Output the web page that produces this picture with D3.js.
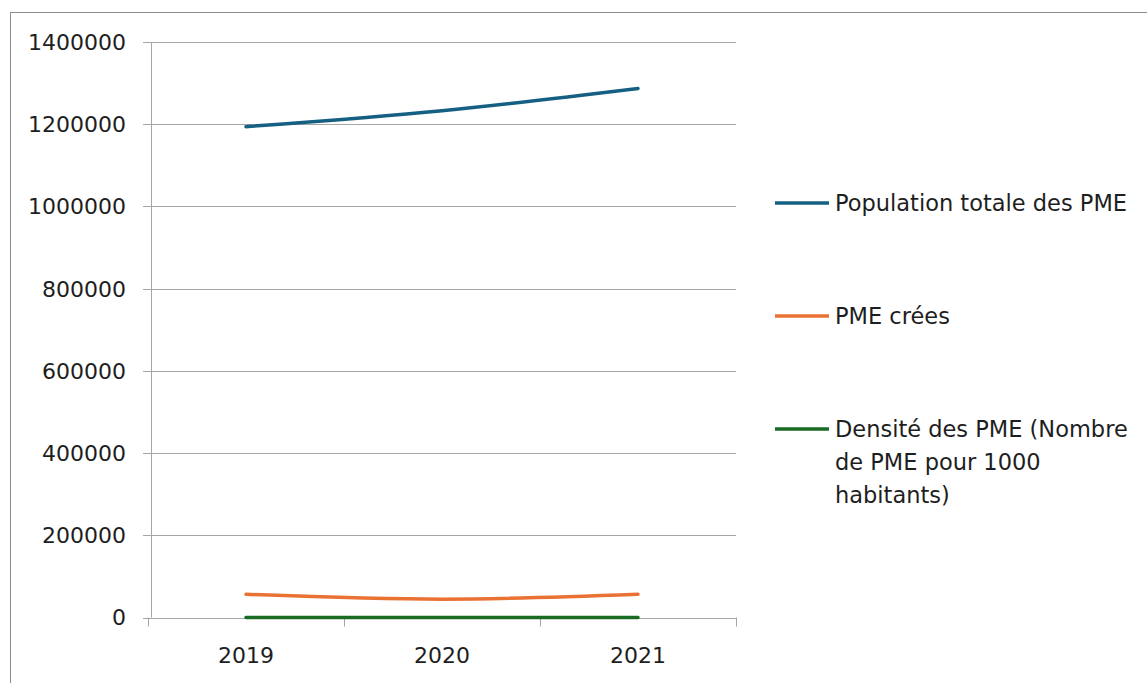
<!DOCTYPE html>
<html>
<head>
<meta charset="utf-8">
<script src="https://cdn.jsdelivr.net/npm/d3@7"></script>
<style>
  body { margin: 0; background: #fff; }
  text { font-family: "DejaVu Sans", "Liberation Sans", sans-serif; fill: #1e1e1e; }
</style>
</head>
<body>
<div id="chart"></div>
<script>
// data
let years = ["2019", "2020", "2021"];
let populationPME = [1194000, 1233000, 1287000];
let pmeCreees = [56500, 44500, 56500];
let densitePME = [30, 31, 32];
let yTicks = [0, 200000, 400000, 600000, 800000, 1000000, 1200000, 1400000];

let seriesNames = ["Population totale des PME", "PME crées", "Densité des PME (Nombre de PME pour 1000 habitants)"];
let seriesColors = ["#156082", "#E97132", "#196B24"];

let width = 1147, height = 683;
let margin = {left: 151, top: 42, right: 411, bottom: 65};

let svg = d3.select("#chart")
    .append("svg")
    .attr("width", width)
    .attr("height", height);

// outer frame (runs off the right and bottom edges)
svg.append("rect")
    .attr("x", 10.5).attr("y", 12.5)
    .attr("width", width).attr("height", height)
    .attr("fill", "none")
    .attr("stroke", "#8c8c8c")
    .attr("stroke-width", 1);

let g = svg.append("g")
    .attr("transform", `translate(${margin.left}, ${margin.top})`);

let plotW = width - margin.left - margin.right;   // ~585
let plotH = height - margin.top - margin.bottom;  // ~576

let x = d3.scaleBand()
    .domain(years)
    .range([-3, plotW]);

let y = d3.scaleLinear()
    .domain([0, 1400000])
    .range([plotH - 0.5, 0]);

// gridlines
g.append("g")
    .selectAll("line")
    .data(yTicks)
    .enter()
    .append("line")
    .attr("x1", -8)
    .attr("x2", plotW)
    .attr("y1", d => Math.round(y(d)) + 0.5)
    .attr("y2", d => Math.round(y(d)) + 0.5)
    .attr("stroke", "#a6a6a6")
    .attr("stroke-width", 1);

// y axis line
g.append("line")
    .attr("x1", 0.5).attr("x2", 0.5)
    .attr("y1", y(1400000)).attr("y2", y(0))
    .attr("stroke", "#a6a6a6");

// y labels
g.append("g")
    .selectAll("text")
    .data(yTicks)
    .enter()
    .append("text")
    .attr("x", -25)
    .attr("y", d => y(d))
    .attr("dy", "0.36em")
    .style("text-anchor", "end")
    .style("font-size", "22px")
    .text(d => d);

// x axis ticks between categories
let xEdges = years.map(d => x(d)).concat([x.range()[1]]);
g.append("g")
    .selectAll("line")
    .data(xEdges)
    .enter()
    .append("line")
    .attr("x1", d => Math.round(d) + 0.5)
    .attr("x2", d => Math.round(d) + 0.5)
    .attr("y1", y(0))
    .attr("y2", y(0) + 9)
    .attr("stroke", "#a6a6a6");

// x labels
g.append("g")
    .selectAll("text")
    .data(years)
    .enter()
    .append("text")
    .attr("x", d => x(d) + x.bandwidth() / 2)
    .attr("y", y(0) + 45)
    .style("text-anchor", "middle")
    .style("font-size", "22px")
    .text(d => d);

// lines
let allSeries = [populationPME, pmeCreees, densitePME];
let line = d3.line()
    .x((d, i) => x(years[i]) + x.bandwidth() / 2)
    .y(d => y(d))
    .curve(d3.curveMonotoneX);

g.append("g")
    .selectAll("path")
    .data(allSeries)
    .enter()
    .append("path")
    .attr("d", d => line(d))
    .attr("fill", "none")
    .attr("stroke", (d, i) => seriesColors[i])
    .attr("stroke-width", 3.5)
    .attr("stroke-linecap", "round");

// legend
let legendY = [203, 316, 429];
let legendLines = [["Population totale des PME"], ["PME crées"], ["Densité des PME (Nombre", "de PME pour 1000", "habitants)"]];

let legend = svg.append("g").selectAll("g")
    .data(seriesNames)
    .enter()
    .append("g")
    .attr("transform", (d, i) => `translate(775, ${legendY[i]})`);

legend.append("line")
    .attr("x1", 0).attr("x2", 54)
    .attr("y1", 0).attr("y2", 0)
    .attr("stroke", (d, i) => seriesColors[i])
    .attr("stroke-width", 3.5);

legend.each(function(d, i) {
  let t = d3.select(this).append("text")
      .attr("x", 60)
      .attr("y", 0)
      .style("font-size", "22.5px");
  legendLines[i].forEach((s, k) => {
    t.append("tspan")
        .attr("x", 60)
        .attr("y", k * 33)
        .attr("dy", "0.36em")
        .text(s);
  });
});
</script>
</body>
</html>
